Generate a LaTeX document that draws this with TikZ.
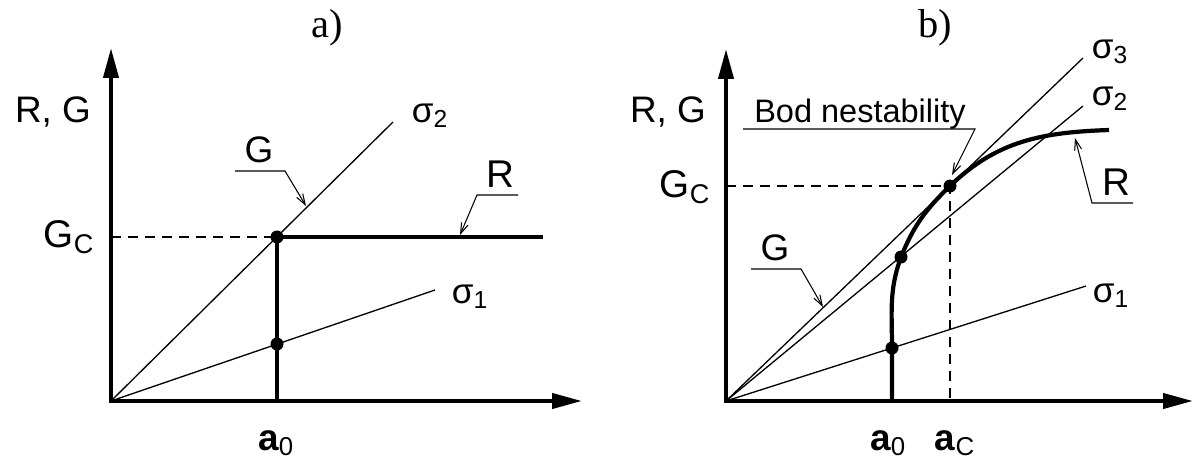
\documentclass[tikz,border=0pt]{standalone}
\usepackage{fontspec}
\setmainfont{Liberation Sans}
\newfontfamily\serifttl{Liberation Serif}
\usetikzlibrary{arrows.meta}

\begin{document}
\begin{tikzpicture}[
    x=0.02cm, y=0.02cm,
    axis/.style={line width=2.3pt, {Triangle[length=17pt, width=8.5pt]}-{Triangle[length=17pt, width=8.5pt]}},
    ray/.style={line width=0.75pt},
    resist/.style={line width=2.4pt},
    guide/.style={line width=0.75pt, dash pattern=on 5.7pt off 4pt},
    lead/.style={line width=0.6pt, -{Straight Barb[length=6pt, width=4pt]}},
    dot/.style={circle, fill, inner sep=0pt, minimum size=7.4pt},
    lbl/.style={font=\fontsize{21}{25}\selectfont, inner sep=0pt, anchor=base},
    sig/.style={font=\fontsize{20}{24}\selectfont, inner sep=0pt, anchor=base},
    ttl/.style={font=\serifttl\fontsize{23}{27}\selectfont, inner sep=0pt},
  ]
    \useasboundingbox (0,0) rectangle (1201,461);

    % panel a)
    \coordinate (ya) at (111,413);
    \coordinate (oa) at (111,60);
    \coordinate (xa) at (582,60);
    \coordinate (ca) at (277,224);
    \coordinate (la) at (277,117);
    \coordinate (s2a) at (393,339);
    \coordinate (s1a) at (435,171);
    \draw[axis] (ya) -- (oa) -- (xa);
    \draw[ray] (oa) -- (s2a);
    \draw[ray] (oa) -- (s1a);
    \draw[guide] (111,224) -- (ca);
    \draw[resist] (277,60) -- (ca) -- (543,224);
    \node[dot] (ca-dot) at (ca) {};
    \node[dot] (la-dot) at (la) {};

    \node[ttl] (ta) at (327,433) {a)};
    \node[lbl] (rga) at (53,339) {R, G};
    \node[lbl, font=\fontsize{22}{26}\selectfont] (gca) at (69,214) {G\textsubscript{C}};
    \node[sig] (s2a-l) at (430,339) {σ\textsubscript{2}};
    \node[sig] (s1a-l) at (470,158) {σ\textsubscript{1}};
    \node[lbl] (ga) at (259,299) {G};
    \node[lbl, font=\fontsize{22}{26}\selectfont] (ra) at (500,274) {R};
    \node[lbl] (a0a) at (276,11) {\textbf{a}\textsubscript{0}};

    % leaders a)
    \draw[lead] (235,290) -- (285,290) -- (306,255);
    \draw[lead] (518,266) -- (477,266) -- (460,226);

    % panel b)
    \coordinate (yb) at (726,412);
    \coordinate (ob) at (726,60);
    \coordinate (xb) at (1193,60);
    \coordinate (cb) at (950,275);
    \coordinate (bb) at (901,204);
    \coordinate (lb) at (892,113);
    \coordinate (s3b) at (1083,403);
    \coordinate (s2b) at (1083,355);
    \coordinate (s1b) at (1086,175);
    \draw[axis] (yb) -- (ob) -- (xb);
    \draw[ray] (ob) -- (s3b);
    \draw[ray] (ob) -- (s2b);
    \draw[ray] (ob) -- (s1b);
    \draw[guide] (726,275) -- (cb) -- (950,60);
    \draw[resist] (892,60) to[out=90, in=-90] (lb) to[out=90, in=250] (bb)
      to[out=68, in=224] (cb) to[out=44, in=182] (1109,331);
    \node[dot] (cb-dot) at (cb) {};
    \node[dot] (bb-dot) at (bb) {};
    \node[dot] (lb-dot) at (lb) {};

    \node[ttl] (tb) at (935,433) {b)};
    \node[lbl] (rgb) at (668,339) {R, G};
    \node[lbl, font=\fontsize{22}{26}\selectfont] (gcb) at (685,264) {G\textsubscript{C}};
    \node[sig] (s3b-l) at (1110,403) {σ\textsubscript{3}};
    \node[sig] (s2b-l) at (1110,356) {σ\textsubscript{2}};
    \node[sig] (s1b-l) at (1111,159) {σ\textsubscript{1}};
    \node[lbl, font=\fontsize{18.5}{22}\selectfont] (bod) at (860,339) {Bod nestability};
    \node[lbl] (gb) at (775,201) {G};
    \node[lbl, font=\fontsize{22}{26}\selectfont] (rb) at (1116,266) {R};
    \node[lbl] (a0b) at (888,11) {\textbf{a}\textsubscript{0}};
    \node[lbl] (acb) at (955,11) {\textbf{a}\textsubscript{C}};

    % leaders b)
    \draw[lead] (743,332) -- (975,332) -- (952,286);
    \draw[lead] (751,192) -- (801,192) -- (823,154);
    \draw[lead] (1133,258) -- (1092,258) -- (1075,323);
\end{tikzpicture}
\end{document}
